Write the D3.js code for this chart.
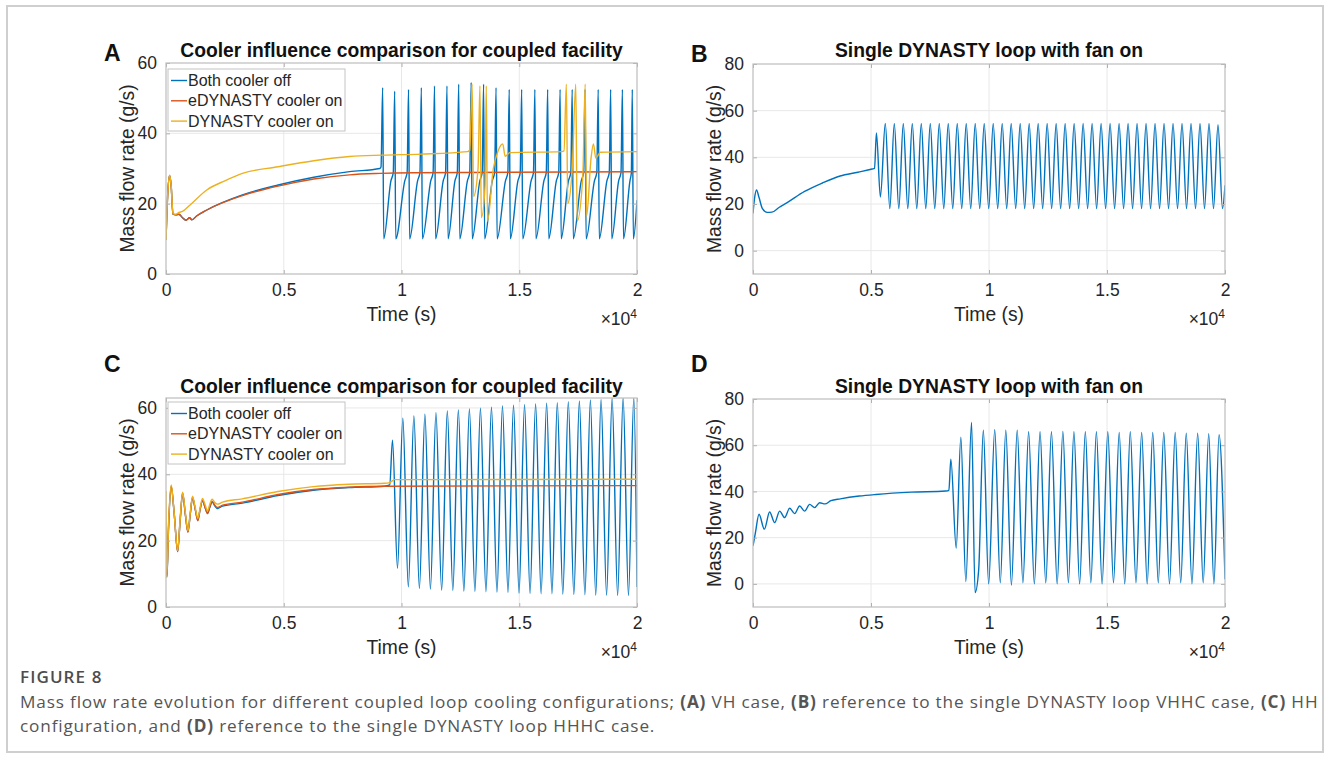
<!DOCTYPE html>
<html>
<head>
<meta charset="utf-8">
<script src="https://cdn.jsdelivr.net/npm/d3@7"></script>
<style>
  body { margin: 0; background: #ffffff; }
  svg { display: block; }
</style>
</head>
<body>
<svg id="fig" width="1329" height="781"></svg>
<script>
// ---- shared axis data -------------------------------------------------
const timeTicks = [0, 5000, 10000, 15000, 20000];
const timeTickLabels = ["0", "0.5", "1", "1.5", "2"];
const seriesNames = ["Both cooler off", "eDYNASTY cooler on", "DYNASTY cooler on"];
const seriesColors = ["#0072BD", "#D95319", "#EDB120"];

// ---- panel A: coupled facility, VH case (time s, mass flow g/s) -------
const aBothOff = [
  [0,9.7],[68,22],[153,28],[220,25],[295,17],[420,16.8],[550,17],[700,16],[850,15.3],[1000,16],
  [1100,15.4],[1300,16.5],[1731,18.2],[3246,22.5],[4762,25.3],[6277,27.5],[7793,29.1],[9080,30],[9130,30.4],
  [9200,53],[9245,10],[9550,26.5],[9650,28.8],
  [9710,52],[9755,10],[10139,26.5],[10239,28.8],
  [10299,52.5],[10344,10],[10683,26.5],[10783,28.8],
  [10843,53],[10888,10],[11242,26.5],[11342,28.8],
  [11402,53.5],[11447,10],[11771,26.5],[11871,28.8],
  [11931,53.5],[11976,10],[12269,26.5],[12369,28.8],
  [12429,54],[12474,10],[12798,26.5],[12898,28.8],
  [12958,54.5],[13003,10],[13326,26.5],[13426,28.8],
  [13486,54],[13531,10],[13855,26.5],[13955,28.8],
  [14015,53],[14060,10],[14415,26.5],[14515,28.8],
  [14575,52.5],[14620,10],[14943,26.5],[15043,28.8],
  [15103,52.5],[15148,10],[15503,26.5],[15603,28.8],
  [15663,52.5],[15708,10],[16047,26.5],[16147,28.8],
  [16207,52.5],[16252,10],[16575,26.5],[16675,28.8],
  [16735,52.5],[16780,10],[17089,26.5],[17189,28.8],
  [17249,52.5],[17294,10],[17634,26.5],[17734,28.8],
  [17794,52.5],[17839,10],[18193,26.5],[18293,28.8],
  [18353,52.5],[18398,10],[18722,26.5],[18822,28.8],
  [18882,52.5],[18927,10],[19220,26.5],[19320,28.8],
  [19380,52.5],[19425,10],[19700,26.5],[19760,28.8],
  [19800,52.5],[19845,10],[20000,21]
];
const aEdynastyOn = [
  [0,9.7],[68,22],[153,28],[220,25],[295,17],[420,16.8],[550,17],[700,16],[850,15.3],[1000,16],
  [1100,15.4],[1300,16.5],[1731,18.2],[3246,22.3],[4762,25],[6277,27],[7793,28.2],[9080,28.6],[10500,28.8],[20000,29.1]
];
const aDynastyOn = [
  [0,9.7],[68,22],[153,28],[220,25],[295,17.2],[420,17],[550,17.5],[700,17.8],[1000,19.5],[1731,23.9],
  [2500,26.5],[3246,28.6],[4762,30.5],[6277,32.2],[7793,33.4],[9170,33.8],[10835,34.1],[12800,34.8],
  [12900,35.2],[13000,54],[13060,22],[13250,30],[13330,53.5],[13390,16],[13550,25],[13600,53.5],[13650,15],
  [13900,30],[14100,35],[14300,37],[14400,33.5],[14600,34.5],[16800,34.8],
  [16900,35],[17000,54],[17060,20],[17250,30],[17400,54],[17460,15],[17700,28],[17800,54],[17860,16.5],
  [18050,33],[18150,37],[18250,33],[18450,34.6],[20000,34.8]
];

// ---- panel B: single DYNASTY loop, VHHC case ---------------------------
const bSingleLoop = [
  [0,16],[60,22],[150,26],[250,23],[400,18],[600,16.4],[800,16.5],[1100,18.5],[1432,20.5],[2186,25.4],
  [2938,29],[3691,32],[4445,33.6],[5050,35],[5150,35.3],[5230,50.5],[5398,23],
  [5606,54.5],[5797,18],[5987,54.5],[6178,18],[6368,54.5],[6559,18],[6749,54.5],[6940,18],
  [7130,54.5],[7321,18],[7511,54.5],[7702,18],[7892,54.5],[8083,18],[8273,54.5],[8464,18],
  [8654,54.5],[8845,18],[9035,54.5],[9226,18],[9416,54.5],[9607,18],[9797,54.5],[9988,18],
  [10178,54.5],[10369,18],[10559,54.5],[10750,18],[10940,54.5],[11131,18],[11321,54.5],[11512,18],
  [11702,54.5],[11893,18],[12083,54.5],[12274,18],[12464,54.5],[12655,18],[12845,54.5],[13036,18],
  [13226,54.5],[13417,18],[13607,54.5],[13798,18],[13988,54.5],[14179,18],[14369,54.5],[14560,18],
  [14750,54.5],[14941,18],[15131,54.5],[15322,18],[15512,54.5],[15703,18],[15893,54.5],[16084,18],
  [16274,54.5],[16465,18],[16655,54.5],[16846,18],[17036,54.5],[17227,18],[17417,54.5],[17608,18],
  [17798,54.5],[17989,18],[18179,54.5],[18370,18],[18560,54.5],[18751,18],[18941,54.5],[19132,18],
  [19322,54.5],[19513,18],[19703,54],[19894,18],[20000,28]
];

// ---- panel C: coupled facility, HH configuration -----------------------
const cBothOff = [
  [0,11],[40,9],[100,22],[221,36.3],[350,28],[493,16.7],[600,26],[704,34.3],[820,28],[931,22.7],
  [1030,28],[1126,33],[1240,29.5],[1353,26.2],[1450,29.5],[1550,32],[1660,30],[1762,28.2],[1860,30],
  [1957,31.7],[2070,30.5],[2184,29.7],[2400,30.4],[3237,31.3],[4752,33.6],[6258,35.2],[7764,36],[9270,36.4],[9500,36.8],
  [9618,50.3],[9830,11.7],
  [10057,56.9],[10290,6.1],[10526,57.6],[10760,5.6],[10994,58.1],[11228,5.4],[11463,58.6],[11705,5.1],
  [11946,59.1],[12180,5],[12414,59.4],[12648,4.8],[12883,59.7],[13117,4.7],[13352,59.9],[13586,4.6],
  [13820,60.2],[14054,4.5],[14288,60.6],[14522,4.4],[14757,60.8],[14991,4.2],[15225,61],[15459,4.1],
  [15694,61.2],[15928,4],[16162,61.4],[16389,4],[16616,61.6],[16850,3.9],[17084,61.9],[17318,3.8],
  [17553,62.1],[17787,3.7],[18021,62.4],[18248,3.6],[18474,62.6],[18708,3.6],[18943,62.9],[19177,3.5],
  [19411,63.1],[19638,3.5],[19865,63.2],[20000,6]
];
const cEdynastyOn = [
  [0,12],[40,9.5],[100,23],[221,36.5],[350,28],[493,16.7],[600,26],[704,34.3],[820,28],[931,22.5],
  [1030,28],[1126,33],[1240,29.5],[1353,26],[1450,29.5],[1550,32.2],[1660,30],[1762,28.2],[1860,30.2],
  [1957,31.9],[2070,30.7],[2184,30],[2400,30.7],[3237,31.6],[4752,33.9],[6258,35.4],[7764,36.1],[9270,36.4],[20000,36.6]
];
const cDynastyOn = [
  [0,35],[30,9],[120,27],[221,36.8],[350,28],[493,17],[600,26.5],[704,34.6],[820,28.5],[931,23],
  [1030,28.5],[1126,33.4],[1240,30],[1353,26.7],[1450,30],[1550,32.7],[1660,30.8],[1762,29],[1860,31],
  [1957,32.5],[2070,31.5],[2184,31],[2400,31.6],[3237,32.6],[4752,34.8],[6258,36.3],[7764,37],[9270,37.3],
  [9500,37.5],[9700,38.4],[20000,38.5]
];

// ---- panel D: single DYNASTY loop, HHHC case ---------------------------
const dSingleLoop = [
  [0,16.5],[100,22],[255,30.1],[480,23.7],[705,31.1],[917,26.5],[1130,31.5],[1340,28.7],[1553,32.7],
  [1765,30.4],[1977,33.7],[2190,31.5],[2400,34.4],[2612,33],[2825,35.1],[3050,34.6],[3300,36],[3700,36.8],
  [4500,38],[5211,38.7],[6722,39.7],[8157,40.2],[8300,40.5],
  [8384,54],[8610,15.5],[8807,63.5],[9018,1],[9260,69.8],[9411,-3.8],[9562,6],
  [9760,66.5],[9985,0],[10243,66.7],[10478,0.5],[10712,66.5],[10950,-0.5],[11195,66.5],[11437,0.5],
  [11679,65.8],[11921,0],[12163,65.8],[12405,0.5],[12646,65.8],[12888,0],[13130,66],[13364,0.5],
  [13598,65.8],[13840,0],[14082,65.8],[14316,0.5],[14550,65.8],[14792,0],[15034,65.8],[15275,0.5],
  [15517,65.5],[15751,0],[15986,65.8],[16228,0.5],[16469,65.5],[16703,0],[16938,65.5],[17172,0.5],
  [17406,65.5],[17648,0],[17890,65.5],[18124,0.5],[18358,65.2],[18600,0],[18842,65.2],[19076,0.5],
  [19310,65],[19530,0],[19749,64.5],[20000,2]
];

// ---- layout ------------------------------------------------------------
const FONT = "'Liberation Sans', Arial, Helvetica, sans-serif";
const panels = [
  { letter: "A", title: "Cooler influence comparison for coupled facility",
    box: { left: 166, top: 63, right: 637, bottom: 274 }, yDomain: [0, 60], yTicks: [0, 20, 40, 60],
    letterY: 61, titleY: 57, series: [aBothOff, aEdynastyOn, aDynastyOn], legend: { x: 168, y: 69 } },
  { letter: "B", title: "Single DYNASTY loop with fan on",
    box: { left: 753, top: 64, right: 1225, bottom: 274 }, yDomain: [-10, 80], yTicks: [0, 20, 40, 60, 80],
    letterY: 62, titleY: 57, series: [bSingleLoop] },
  { letter: "C", title: "Cooler influence comparison for coupled facility",
    box: { left: 166, top: 398, right: 637, bottom: 607 }, yDomain: [0, 63], yTicks: [0, 20, 40, 60],
    letterY: 372, titleY: 393, series: [cBothOff, cEdynastyOn, cDynastyOn], legend: { x: 168, y: 402 } },
  { letter: "D", title: "Single DYNASTY loop with fan on",
    box: { left: 753, top: 399, right: 1225, bottom: 607 }, yDomain: [-10, 80], yTicks: [0, 20, 40, 60, 80],
    letterY: 372, titleY: 393, series: [dSingleLoop] }
];

const svg = d3.select("#fig");

// figure frame
svg.append("rect")
  .attr("x", 7).attr("y", 6).attr("width", 1316).attr("height", 746)
  .attr("fill", "none").attr("stroke", "#cfcfcf").attr("stroke-width", 2);

panels.forEach((p, i) => {
  const b = p.box;
  const x = d3.scaleLinear().domain([0, 20000]).range([b.left, b.right]);
  const y = d3.scaleLinear().domain(p.yDomain).range([b.bottom, b.top]);
  const g = svg.append("g");

  const clipId = "clip" + i;
  g.append("clipPath").attr("id", clipId).append("rect")
    .attr("x", b.left).attr("y", b.top).attr("width", b.right - b.left).attr("height", b.bottom - b.top);

  // grid
  g.append("g").selectAll("line.vg").data(timeTicks.slice(1, -1)).join("line")
    .attr("x1", d => x(d)).attr("x2", d => x(d)).attr("y1", b.top).attr("y2", b.bottom)
    .attr("stroke", "#e8e8e8").attr("stroke-width", 1);
  g.append("g").selectAll("line.hg").data(p.yTicks.filter(d => d > p.yDomain[0] && d < p.yDomain[1])).join("line")
    .attr("x1", b.left).attr("x2", b.right).attr("y1", d => y(d)).attr("y2", d => y(d))
    .attr("stroke", "#e8e8e8").attr("stroke-width", 1);

  // data lines
  const line = d3.line().x(d => x(d[0])).y(d => y(d[1])).curve(d3.curveMonotoneX);
  const lines = g.append("g").attr("clip-path", `url(#${clipId})`);
  p.series.forEach((s, k) => {
    lines.append("path").datum(s).attr("d", line)
      .attr("fill", "none").attr("stroke", seriesColors[k]).attr("stroke-width", 1.4)
      .attr("stroke-linejoin", "round");
  });

  // axes (ticks pointing inward, box drawn separately)
  const xAxis = d3.axisBottom(x).tickValues(timeTicks).tickFormat((d, j) => timeTickLabels[j])
    .tickSizeInner(-4).tickSizeOuter(0).tickPadding(10);
  const xTop = d3.axisTop(x).tickValues(timeTicks).tickFormat("").tickSizeInner(-4).tickSizeOuter(0);
  const yAxis = d3.axisLeft(y).tickValues(p.yTicks).tickSizeInner(-4).tickSizeOuter(0).tickPadding(9);
  const yRight = d3.axisRight(y).tickValues(p.yTicks).tickFormat("").tickSizeInner(-4).tickSizeOuter(0);

  const axes = [
    g.append("g").attr("transform", `translate(0,${b.bottom})`).call(xAxis),
    g.append("g").attr("transform", `translate(0,${b.top})`).call(xTop),
    g.append("g").attr("transform", `translate(${b.left},0)`).call(yAxis),
    g.append("g").attr("transform", `translate(${b.right},0)`).call(yRight)
  ];
  axes.forEach(a => {
    a.select(".domain").remove();
    a.selectAll(".tick line").attr("stroke", "#b0b0b0");
    a.selectAll(".tick text").attr("fill", "#262626").style("font-family", FONT).style("font-size", "17.5px");
  });

  g.append("rect").attr("x", b.left).attr("y", b.top)
    .attr("width", b.right - b.left).attr("height", b.bottom - b.top)
    .attr("fill", "none").attr("stroke", "#bdbdbd").attr("stroke-width", 1.2);

  // labels
  const midX = (b.left + b.right) / 2;
  g.append("text").attr("x", midX).attr("y", p.titleY).attr("text-anchor", "middle")
    .style("font-family", FONT).style("font-size", "19.3px").style("font-weight", "bold").attr("fill", "#111")
    .text(p.title);
  g.append("text").attr("x", b.left - 62).attr("y", p.letterY)
    .style("font-family", FONT).style("font-size", "23px").style("font-weight", "bold").attr("fill", "#111")
    .text(p.letter);
  g.append("text").attr("x", midX).attr("y", b.bottom + 47).attr("text-anchor", "middle")
    .style("font-family", FONT).style("font-size", "19.3px").attr("fill", "#262626")
    .text("Time (s)");
  const exp = g.append("text").attr("x", b.right).attr("y", b.bottom + 51).attr("text-anchor", "end")
    .style("font-family", FONT).style("font-size", "17.5px").attr("fill", "#262626");
  exp.append("tspan").text("\u00d710");
  exp.append("tspan").attr("dy", -7).style("font-size", "12px").text("4");
  g.append("text")
    .attr("transform", `translate(${b.left - 32},${(b.top + b.bottom) / 2}) rotate(-90)`)
    .attr("text-anchor", "middle")
    .style("font-family", FONT).style("font-size", "19.3px").attr("fill", "#262626")
    .text("Mass flow rate (g/s)");

  // legend
  if (p.legend) {
    const lg = g.append("g").attr("transform", `translate(${p.legend.x},${p.legend.y})`);
    lg.append("rect").attr("x", 0).attr("y", 0).attr("width", 177).attr("height", 62)
      .attr("fill", "#ffffff").attr("stroke", "#c4c4c4").attr("stroke-width", 1);
    seriesNames.forEach((name, k) => {
      const cy = 11.5 + k * 20.3;
      lg.append("line").attr("x1", 3).attr("x2", 19).attr("y1", cy).attr("y2", cy)
        .attr("stroke", seriesColors[k]).attr("stroke-width", 1.4);
      lg.append("text").attr("x", 20).attr("y", cy).attr("dy", "0.35em")
        .style("font-family", FONT).style("font-size", "16px").attr("fill", "#262626")
        .text(name);
    });
  }
});

// caption
const CAP_FONT = "'Open Sans', 'Noto Sans', sans-serif";
svg.append("text").attr("x", 20).attr("y", 683)
  .style("font-family", CAP_FONT).style("font-size", "17px").style("font-weight", "600")
  .style("letter-spacing", "1.1px").attr("fill", "#4d4d4d")
  .text("FIGURE 8");
const capLines = [
  [["Mass flow rate evolution for different coupled loop cooling configurations; ", false], ["(A)", true], [" VH case, ", false],
   ["(B)", true], [" reference to the single DYNASTY loop VHHC case, ", false], ["(C)", true], [" HH", false]],
  [["configuration, and ", false], ["(D)", true], [" reference to the single DYNASTY loop HHHC case.", false]]
];
capLines.forEach((parts, li) => {
  const t = svg.append("text").attr("x", 20).attr("y", 708 + li * 23.5)
    .style("font-family", CAP_FONT).style("font-size", "17.2px").style("letter-spacing", "0.84px")
    .attr("fill", "#555555");
  parts.forEach(([s, bold]) => t.append("tspan").style("font-weight", bold ? "700" : "400").text(s));
});
</script>
</body>
</html>
